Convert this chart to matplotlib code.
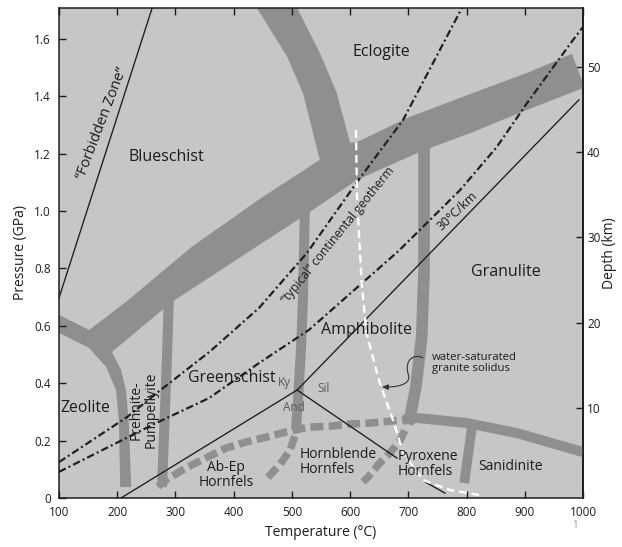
import matplotlib
matplotlib.use("Agg")
import matplotlib.pyplot as plt
from matplotlib.patches import Polygon, FancyArrowPatch
from matplotlib.path import Path

plt.rcParams['font.family'] = ['Open Sans', 'DejaVu Sans']

BG = '#c6c6c6'
BAND = '#8f8f8f'
INK = '#1c1c1c'
GREY_TXT = '#5a5a5a'

# ---- facies boundaries, (temperature C, pressure GPa) ----
# blueschist / eclogite band outline
big_band_T = [151.5, 215, 328, 450, 548, 519, 492, 440, 426,
              497, 509, 548, 577, 600, 612, 698, 811, 904, 981, 1003,
              904, 811, 720, 612, 526, 423, 294, 191]
big_band_P = [0.585, 0.683, 0.875, 1.049, 1.178, 1.411, 1.537, 1.707, 1.752,
              1.752, 1.707, 1.551, 1.411, 1.237, 1.240, 1.324, 1.411, 1.481, 1.547, 1.43,
              1.352, 1.275, 1.206, 1.108, 0.99, 0.854, 0.683, 0.509]

# zeolite band outline
zeo_T = [95, 151.5, 181, 198, 203, 205, 224, 220, 215, 206.5, 191, 162, 95]
zeo_P = [0.580, 0.523, 0.456, 0.376, 0.261, 0.038, 0.038, 0.261, 0.376, 0.446, 0.509, 0.575, 0.643]

# prehnite-pumpellyite / greenschist
prehn_T = [289, 285.5, 277]
prehn_P = [0.72, 0.494, 0.038]

# greenschist / amphibolite
gs_T = [522.5, 519, 515.6, 510.5, 507]
gs_P = [1.03, 0.69, 0.516, 0.341, 0.237]
gs_dash_T = [505, 497, 480, 457]
gs_dash_P = [0.215, 0.167, 0.118, 0.068]

# amphibolite / granulite
amph_T = [727, 727, 723, 713, 703, 698]
amph_P = [1.22, 0.794, 0.561, 0.387, 0.282, 0.26]
amph_dash_T = [694, 686, 668.5, 651, 631, 622]
amph_dash_P = [0.235, 0.202, 0.157, 0.122, 0.073, 0.056]

# hornfels upper limit
horn_T = [691, 715, 801, 887, 1000, 1010]
horn_P = [0.272, 0.279, 0.261, 0.226, 0.160, 0.155]
horn_dash_T = [270, 284, 318, 352, 387, 421, 456, 490, 529, 565, 600, 634, 691]
horn_dash_P = [0.040, 0.063, 0.105, 0.139, 0.174, 0.195, 0.212, 0.230, 0.247, 0.250, 0.258, 0.261, 0.272]

# sanidinite
sani_T = [810, 796]
sani_P = [0.26, 0.052]

# aluminosilicate triple point lines
ky_and_T = [206.5, 509]
ky_and_P = [0.0, 0.376]
ky_sil_T = [509, 993]
ky_sil_P = [0.376, 1.387]
and_sil_T = [509, 680.5]
and_sil_P = [0.376, 0.139]

# forbidden zone
forb_T = [100, 260]
forb_P = [0.697, 1.707]

# geotherms
typ_T = [100, 217, 270, 359, 443.5, 526, 612, 691, 792]
typ_P = [0.125, 0.282, 0.369, 0.510, 0.662, 0.854, 1.101, 1.317, 1.707]
g30_T = [100, 266.6, 357.6, 443.5, 529, 684, 789, 852, 904, 983, 1000]
g30_P = [0.091, 0.261, 0.348, 0.470, 0.585, 0.862, 1.073, 1.223, 1.376, 1.596, 1.641]

# water-saturated granite solidus
sol_T = [610, 612, 620, 628, 651, 674, 691, 725, 771, 823]
sol_P = [1.282, 1.04, 0.746, 0.575, 0.40, 0.27, 0.157, 0.063, 0.028, 0.01]
sol_end_T = [729, 763]
sol_end_P = [0.056, 0.017]

x_ticks = [100, 200, 300, 400, 500, 600, 700, 800, 900, 1000]
y_ticks = [0, 0.2, 0.4, 0.6, 0.8, 1.0, 1.2, 1.4, 1.6]
y_tick_labels = ['0', '0.2', '0.4', '0.6', '0.8', '1.0', '1.2', '1.4', '1.6']
depth_ticks = [10, 20, 30, 40, 50]

# facies labels: text, T, P, size, rotation
labels = [
    ("Eclogite", 653, 1.554, 11.5, 0),
    ("Blueschist", 285, 1.189, 11.5, 0),
    ("Granulite", 868, 0.787, 11.5, 0),
    ("Amphibolite", 629, 0.585, 11.5, 0),
    ("Greenschist", 397, 0.418, 11.4, 0),
    ("Zeolite", 146, 0.314, 11.3, 0),
    ("Prehnite-\nPumpellyite", 245, 0.307, 10, 90),
    ("Ab-Ep\nHornfels", 387, 0.080, 10, 0),
    ("Sanidinite", 875, 0.108, 10, 0),
]

fig = plt.figure(figsize=(6.22, 5.47), dpi=100)
ax = fig.add_axes([59 / 622, 1 - 498 / 547, 524 / 622, 490 / 547])
ax.set_facecolor(BG)
ax.set_xlim(100, 1000)
ax.set_ylim(0, 1.707)

ax.add_patch(Polygon(list(zip(big_band_T, big_band_P)), closed=True,
                     facecolor=BAND, edgecolor='none', zorder=1))
ax.add_patch(Polygon(list(zip(zeo_T, zeo_P)), closed=True,
                     facecolor=BAND, edgecolor='none', zorder=1))

band_kw = dict(color=BAND, solid_capstyle='butt', zorder=1)
ax.plot(prehn_T, prehn_P, lw=7.2, **band_kw)
ax.plot(gs_T, gs_P, lw=7.2, **band_kw)
ax.plot(amph_T, amph_P, lw=8.4, **band_kw)
ax.plot(horn_T, horn_P, lw=7.2, **band_kw)
ax.plot(sani_T, sani_P, lw=7.0, **band_kw)
for tt, pp in [(horn_dash_T, horn_dash_P), (gs_dash_T, gs_dash_P), (amph_dash_T, amph_dash_P)]:
    ln, = ax.plot(tt, pp, lw=5.4, color=BAND, zorder=1, dash_capstyle='butt')
    ln.set_dashes((1.75, 0.7))

line_kw = dict(color=INK, lw=0.95, zorder=3)
ax.plot(ky_and_T, ky_and_P, **line_kw)
ax.plot(ky_sil_T, ky_sil_P, **line_kw)
ax.plot(and_sil_T, and_sil_P, **line_kw)
ax.plot(forb_T, forb_P, **line_kw)
ax.plot(sol_end_T, sol_end_P, **line_kw)

for tt, pp in [(typ_T, typ_P), (g30_T, g30_P)]:
    ln, = ax.plot(tt, pp, color='#202020', lw=1.6, zorder=4)
    ln.set_dashes((3.4, 1.4, 0.9, 1.4))

ln, = ax.plot(sol_T, sol_P, color='white', lw=1.7, zorder=5)
ln.set_dashes((3.3, 2.0))

# arrow from the solidus label
arrow_path = Path([(725, 0.488), (710, 0.505), (692, 0.48), (700, 0.43),
                   (706, 0.395), (680, 0.385), (655, 0.387)],
                  [Path.MOVETO, Path.CURVE4, Path.CURVE4, Path.CURVE4,
                   Path.CURVE4, Path.CURVE4, Path.CURVE4])
ax.add_patch(FancyArrowPatch(path=arrow_path, arrowstyle='-|>,head_length=3.5,head_width=1.6',
                             color='#333333', lw=0.8, zorder=6))

for txt, t, p, fs, rot in labels:
    ax.text(t, p, txt, fontsize=fs, rotation=rot, ha='center', va='center',
            color=INK, linespacing=0.95, zorder=7)

ax.text(514, 0.125, "Hornblende\nHornfels", fontsize=10, ha='left', va='center',
        color=INK, linespacing=1.0, zorder=7)
ax.text(682, 0.118, "Pyroxene\nHornfels", fontsize=10, ha='left', va='center',
        color=INK, linespacing=1.0, zorder=7)
ax.text(740.6, 0.470, "water-saturated\ngranite solidus", fontsize=8.2, ha='left',
        va='center', color=INK, linespacing=1.1, zorder=7)
ax.text(486.5, 0.404, "Ky", fontsize=8.5, color=GREY_TXT, ha='center', va='center', zorder=7)
ax.text(503.6, 0.317, "And", fontsize=8.5, color=GREY_TXT, ha='center', va='center', zorder=7)
ax.text(555, 0.383, "Sil", fontsize=8.5, color=GREY_TXT, ha='center', va='center', zorder=7)
ax.text(174, 1.307, "\u201cForbidden Zone\u201d", fontsize=10.5, rotation=69,
        ha='center', va='center', color=INK, zorder=7)
ax.text(579, 0.915, "\u201ctypical\u201d continental geotherm", fontsize=8.8, rotation=51,
        ha='center', va='center', color=INK, zorder=7)
ax.text(783.6, 1.0, "30\u00b0C/km", fontsize=9, rotation=43.5,
        ha='center', va='center', color=INK, zorder=7)

ax.set_xticks(x_ticks)
ax.set_yticks(y_ticks)
ax.set_yticklabels(y_tick_labels)
ax.tick_params(axis='x', direction='in', top=True, length=5, width=1, pad=6,
               labelsize=8.5, colors=INK)
ax.tick_params(axis='y', direction='in', right=False, length=5, width=1, pad=6,
               labelsize=8.5, colors=INK)
for s in ax.spines.values():
    s.set_linewidth(1.1)
    s.set_color(INK)

sec = ax.secondary_yaxis('right', functions=(lambda p: 33.6 * p - 0.5,
                                             lambda d: (d + 0.5) / 33.6))
sec.set_yticks(depth_ticks)
sec.tick_params(direction='in', length=5, width=1, pad=3, labelsize=8.5, colors=INK)
sec.spines['right'].set_linewidth(1.1)
sec.set_ylabel("Depth (km)", fontsize=10, color=INK, labelpad=1)

ax.set_xlabel("Temperature (\u00b0C)", fontsize=10, color=INK, labelpad=4)
ax.set_ylabel("Pressure (GPa)", fontsize=10, color=INK, labelpad=4)

fig.text(575 / 622, 1 - 525 / 547, "1", fontsize=7, color='#999999', ha='center', va='center')

fig.savefig("out.png", dpi=100)
